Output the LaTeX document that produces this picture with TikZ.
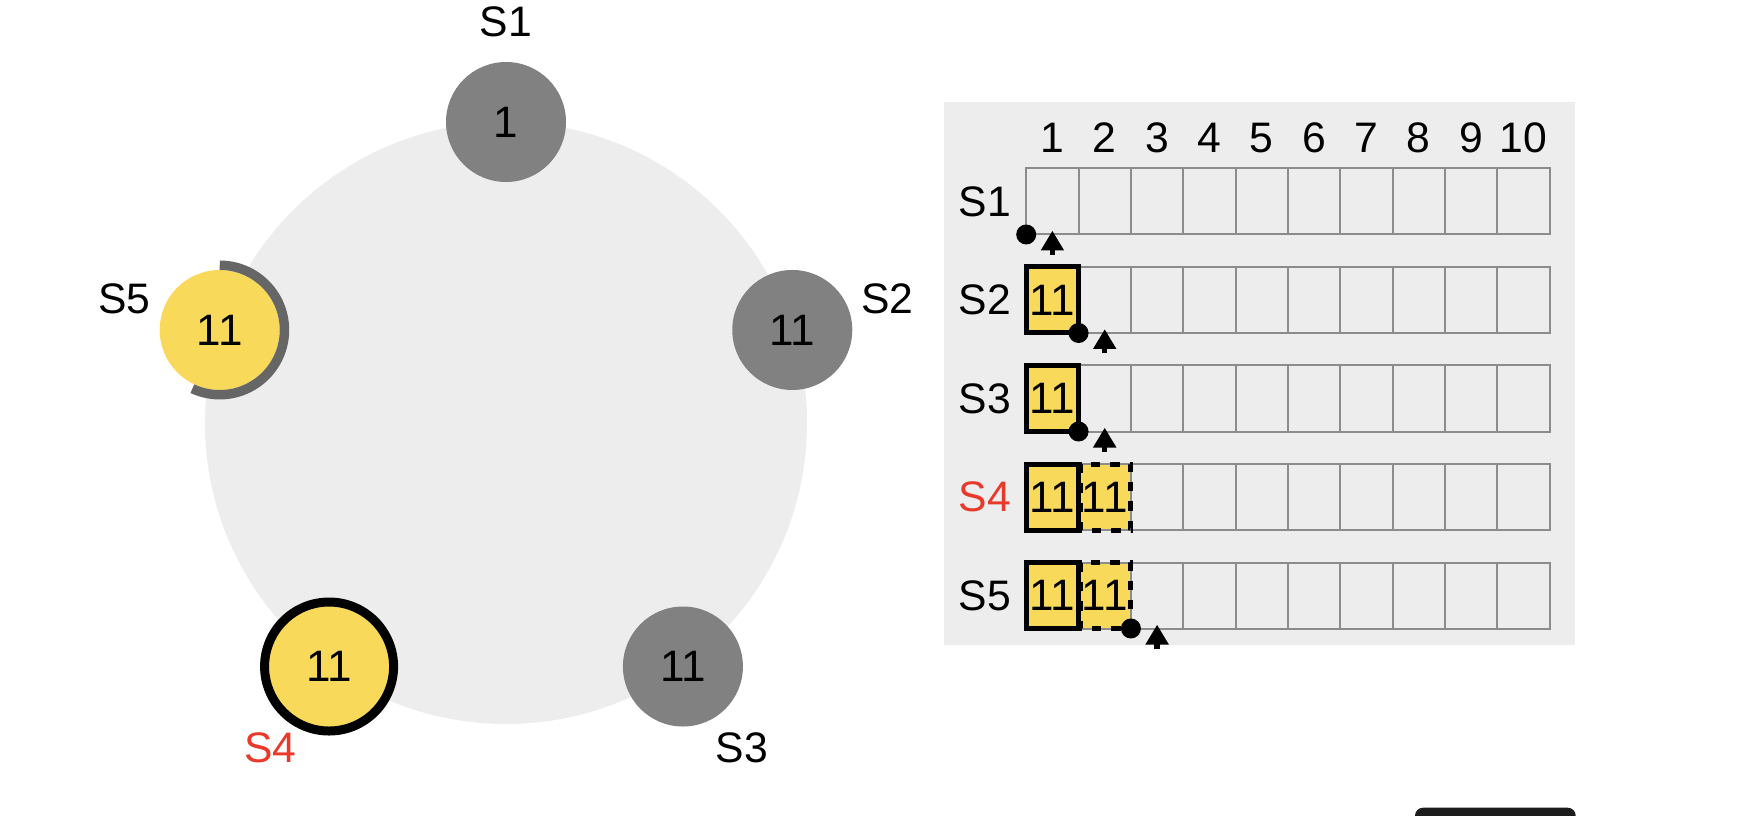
\documentclass[tikz,border=0pt]{standalone}
\usepackage{fontspec}
\setmainfont{Liberation Sans}
\usetikzlibrary{calc}
\definecolor{bgray}{HTML}{EDEDED}
\definecolor{nodegray}{HTML}{818181}
\definecolor{arcgray}{HTML}{666666}
\definecolor{yel}{HTML}{F8D95A}
\definecolor{redlbl}{HTML}{E8392B}
\definecolor{gridgray}{HTML}{8C8C8C}
\definecolor{btn}{HTML}{1C1C1C}
\newcommand\nextptr[2]{%
  \fill (#1,{-(#2-3.5)}) -- ({#1+11.75},{-(#2+16)}) -- ({#1-11.75},{-(#2+16)}) -- cycle;
  \fill ({#1-2.75},{-(#2+15)}) rectangle ({#1+2.75},{-(#2+20.5)});}
\begin{document}
\begin{tikzpicture}[x=0.75pt,y=0.75pt,
  lbl/.style={font=\fontsize{32}{38}\selectfont, inner sep=0pt},
  srv/.style={circle, minimum size=90pt, inner sep=0pt, font=\fontsize{33}{38}\selectfont},
  gridline/.style={draw=gridgray, line width=1.5pt},
  solidcell/.style={draw=black, line width=3.75pt},
  dashcell/.style={draw=black, line width=3.75pt, dash pattern=on 7pt off 7.5pt},
  celltxt/.style={font=\fontsize{33}{38}\selectfont, inner sep=0pt}]
\useasboundingbox (0,0) rectangle (1738,-816);
% ---------- ring ----------
\coordinate (c) at (506,-423);
\fill[bgray] (c) circle[radius=301];
\node[srv, fill=nodegray] (s1) at ($(c)+(90:301)$) {1};
\node[srv, fill=nodegray] (s2) at ($(c)+(18:301)$) {11};
\node[srv, fill=nodegray] (s3) at ($(c)+(-54:301)$) {11};
\node[srv, fill=yel, draw=black, line width=6.75pt, minimum size=96.75pt] (s4) at ($(c)+(-126:301)$) {11};
\node[srv, fill=yel] (s5) at ($(c)+(162:301)$) {11};
\draw[arcgray, line width=7.1pt] ($(s5.center)+(90:64.75)$) arc[start angle=90, end angle=-115, radius=64.75];
\node[lbl] (l1) at ($(c)+(90:401)$) {S1};
\node[lbl] (l2) at ($(c)+(18:401)$) {S2};
\node[lbl] (l3) at ($(c)+(-54:401)$) {S3};
\node[lbl, text=redlbl] (l4) at ($(c)+(-126:401)$) {S4};
\node[lbl] (l5) at ($(c)+(162:401)$) {S5};
% ---------- log panel ----------
\fill[bgray] (944,-102.3) rectangle (1574.8,-644.6);
\foreach \i in {1,...,10} {
  \node[lbl] (h\i) at ({1026.2+52.35*(\i-0.5)},-137.7) {\i};
}
\foreach \r/\t/\col in {1/S1/black,2/S2/black,3/S3/black,4/S4/redlbl,5/S5/black} {
  \node[lbl, text=\col] (r\r) at (985,{-(168.5+98.5*(\r-1)+33)}) {\t};
}
% yellow fills
\foreach \r/\c in {2/1,3/1,4/1,4/2,5/1,5/2} {
  \fill[yel] ({1026.2+52.35*(\c-1)},{-(168.5+98.5*(\r-1))}) rectangle ++(52.35,-66);
}
% grid
\foreach \r in {1,...,5} {
  \foreach \c in {1,...,10} {
    \draw[gridline] ({1026.2+52.35*(\c-1)},{-(168.5+98.5*(\r-1))}) rectangle ++(52.35,-66);
  }
}
% dashed (uncommitted) cells
\foreach \r in {4,5} {
  \draw[dashcell] ({1026.2+52.35+2.2},{-(168.5+98.5*(\r-1))}) rectangle ({1026.2+2*52.35},{-(168.5+98.5*(\r-1)+66)});
}
% solid (committed) cells
\foreach \r in {2,3,4,5} {
  \draw[solidcell] (1026.2,{-(168.5+98.5*(\r-1))}) rectangle ++(52.35,-66);
}
% cell texts
\foreach \r/\c in {2/1,3/1,4/1,4/2,5/1,5/2} {
  \node[celltxt] (e\r\c) at ({1026.2+52.35*(\c-0.5)},{-(168.5+98.5*(\r-1)+33)}) {11};
}
% commit dots
\fill (1026.2,-234.5) circle[radius=10];
\fill (1078.55,-333) circle[radius=10];
\fill (1078.55,-431.5) circle[radius=10];
\fill (1130.9,-628.5) circle[radius=10];
% next-index pointers
\nextptr{1052.4}{234.5}
\nextptr{1104.7}{333}
\nextptr{1104.7}{431.5}
\nextptr{1157.1}{628.5}
% ---------- bottom button ----------
\begin{scope}
\clip (0,0) rectangle (1738,-816);
\fill[btn, rounded corners=6pt] (1415,-807.7) rectangle (1575.7,-840);
\end{scope}
\end{tikzpicture}
\end{document}
